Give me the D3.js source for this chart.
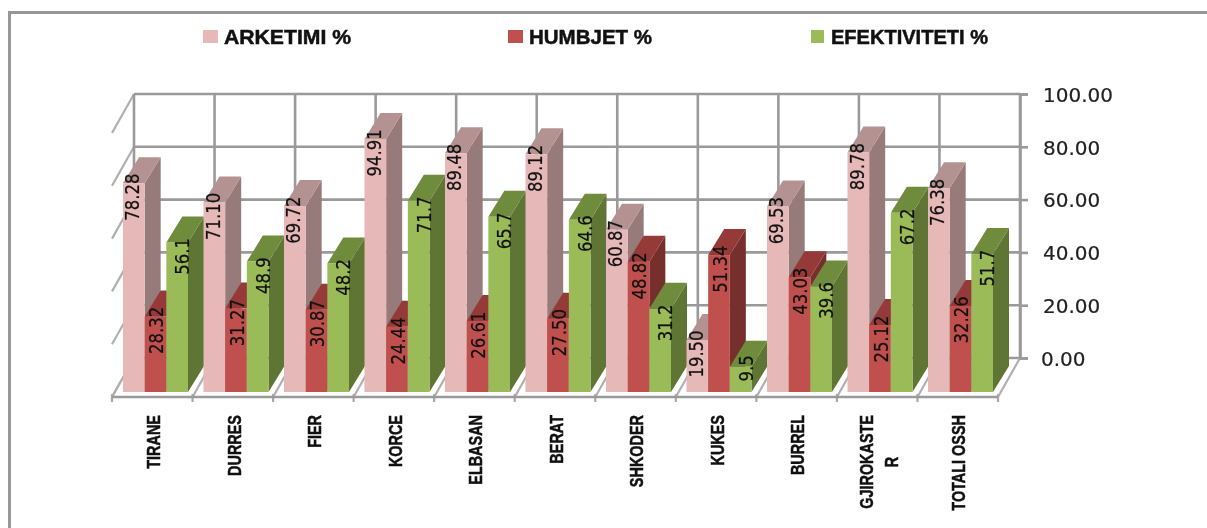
<!DOCTYPE html>
<html><head><meta charset="utf-8">
<script src="https://cdnjs.cloudflare.com/ajax/libs/d3/7.8.5/d3.min.js"></script>
<style>html,body{margin:0;padding:0;background:#fff}svg{display:block;filter:blur(.5px)}</style>
</head><body><div id="c"></div>
<script>
const categories=["TIRANE","DURRES","FIER","KORCE","ELBASAN","BERAT","SHKODER","KUKES","BURREL","GJIROKASTER","TOTALI OSSH"];
const arketimi=["78.28","71.10","69.72","94.91","89.48","89.12","60.87","19.50","69.53","89.78","76.38"];
const humbjet=["28.32","31.27","30.87","24.44","26.61","27.50","48.82","51.34","43.03","25.12","32.26"];
const efektiviteti=["56.1","48.9","48.2","71.7","65.7","64.6","31.2","9.5","39.6","67.2","51.7"];
const seriesNames=["ARKETIMI %","HUMBJET %","EFEKTIVITETI %"];
const yTicks=[0,20,40,60,80,100];

const W=1207,H=528;
const svg=d3.select("#c").append("svg").attr("width",W).attr("height",H);
const font="'DejaVu Sans',sans-serif";
const sans="'Liberation Sans',sans-serif";
const grey="#9a9a9a";

// frame
svg.append("path").attr("d",`M9.5,${H}V12.5H${W}`).attr("fill","none").attr("stroke","#979797").attr("stroke-width",3);

const x=d3.scaleBand().domain(categories).range([123,123+80.5*11]);
const inner=d3.scaleBand().domain(seriesNames).range([0,65]);
const yFront=d3.scaleLinear().domain([0,100]).range([392,125.3]);
const yBack=d3.scaleLinear().domain([0,100]).range([358,94]);
const xGrid=d3.scaleLinear().domain([0,categories.length]).range([134,1020]);
const wallDX=-22,wallDY=39;
const depthX=16,depthY=-26;

// walls
const g=svg.append("g").attr("fill","none");
yTicks.forEach(t=>{
  g.append("line").attr("x1",xGrid(0)).attr("x2",xGrid(11)).attr("y1",yBack(t)).attr("y2",yBack(t)).attr("stroke",grey).attr("stroke-width",2.6);
  g.append("line").attr("x1",xGrid(0)).attr("x2",xGrid(0)+wallDX).attr("y1",yBack(t)).attr("y2",yBack(t)+wallDY).attr("stroke","#b0b0b0").attr("stroke-width",2.2);
});
d3.range(0,12).forEach(i=>{
  g.append("line").attr("x1",xGrid(i)).attr("x2",xGrid(i)).attr("y1",yBack(100)).attr("y2",yBack(0)).attr("stroke",grey).attr("stroke-width",2.6);
  g.append("line").attr("x1",xGrid(i)).attr("x2",xGrid(i)+wallDX).attr("y1",yBack(0)).attr("y2",yBack(0)+wallDY).attr("stroke","#b0b0b0").attr("stroke-width",2.2);
  g.append("line").attr("x1",xGrid(i)+wallDX).attr("x2",xGrid(i)+wallDX).attr("y1",yBack(0)+wallDY-3).attr("y2",yBack(0)+wallDY+5).attr("stroke","#a8a8a8").attr("stroke-width",2.2);
});
g.append("line").attr("x1",xGrid(0)+wallDX).attr("x2",xGrid(11)+wallDX).attr("y1",yBack(0)+wallDY).attr("y2",yBack(0)+wallDY).attr("stroke",grey).attr("stroke-width",2.6);

// value axis
const ax=svg.append("g").attr("transform","translate(1020,0)")
  .call(d3.axisRight(yBack).tickValues(yTicks).tickFormat(d3.format(".2f")).tickSize(8).tickPadding(15));
ax.selectAll("path").attr("stroke",grey).attr("stroke-width",2.6);
ax.selectAll("line").attr("stroke",grey).attr("stroke-width",2.6);
ax.selectAll("text").attr("font-family",font).attr("font-size",20).attr("fill","#222").attr("stroke","#222").attr("stroke-width",.2).attr("dy","0.36em");
ax.selectAll(".tick").filter(d=>d===0).select("text").attr("x",21);

// bars
const colors=[
 {front:"#E6B9B8",top:"#B49291",side:"#967B7A"},
 {front:"#C0504D",top:"#953A38",side:"#772F2D"},
 {front:"#9BBB59",top:"#6F8B3C",side:"#5F7533"}];
const allSeries=[arketimi,humbjet,efektiviteti];
const labelDX=[9.5,12,16.5];
const labels=[];
categories.forEach((c,ci)=>{
  const gb=svg.append("g");
  seriesNames.forEach((s,si)=>{
    const raw=allSeries[si][ci],v=+raw;
    const xl=x(c)+inner(s),xr=xl+inner.bandwidth();
    const yt=yFront(v),yb=yFront(0);
    const col=colors[si];
    gb.append("polygon").attr("fill",col.side).attr("points",[[xr,yt],[xr+depthX,yt+depthY],[xr+depthX,yb+depthY],[xr,yb]].join(" "));
    gb.append("polygon").attr("fill",col.top).attr("points",[[xl,yt],[xl+depthX,yt+depthY],[xr+depthX,yt+depthY],[xr,yt]].join(" "));
    gb.append("rect").attr("fill",col.front).attr("x",xl).attr("y",yt).attr("width",xr-xl).attr("height",yb-yt);
    const half=raw.length*3.9+(raw.length>3?3:0);
    labels.push({raw,x:xl+labelDX[si],y:Math.min(yt+14,yb-half-12)});
  });
});
svg.append("g").selectAll("text").data(labels).join("text")
  .attr("transform",d=>`translate(${d.x+6.5},${d.y}) rotate(-90) scale(1,1.22)`)
  .attr("text-anchor","middle").attr("font-family",font).attr("font-size",16.5).attr("fill","#111").attr("stroke","#111").attr("stroke-width",.2).text(d=>d.raw);

// category labels
const catG=svg.append("g").attr("font-family",sans).attr("font-weight","bold").attr("font-size",19).attr("fill","#111").attr("stroke","#111").attr("stroke-width",.5);
const squeeze=0.76;
categories.forEach(c=>{
  if(c==="GJIROKASTER"){
    catG.append("text").attr("transform",`translate(${x(c)+25},415) rotate(-90) scale(${squeeze},1)`).attr("text-anchor","end").text(c.slice(0,10));
    catG.append("text").attr("transform",`translate(${x(c)+50},462) rotate(-90) scale(${squeeze},1)`).attr("text-anchor","middle").text(c.slice(10));
  } else {
    catG.append("text").attr("transform",`translate(${x(c)+37},415) rotate(-90) scale(${squeeze},1)`).attr("text-anchor","end").text(c);
  }
});

// legend
const legendX=[203,508,811],legendW=[15,15,13],legendTextX=[224,529,831],legendTextW=[127,123,157];
seriesNames.forEach((s,i)=>{
  svg.append("rect").attr("x",legendX[i]).attr("y",30).attr("width",legendW[i]).attr("height",13).attr("fill",colors[i].front);
  svg.append("text").attr("x",legendTextX[i]).attr("y",43.5).attr("font-family",sans).attr("font-weight","bold").attr("font-size",20)
    .attr("textLength",legendTextW[i]).attr("lengthAdjust","spacingAndGlyphs").attr("fill","#111").attr("stroke","#111").attr("stroke-width",.5).text(s);
});
</script></body></html>
